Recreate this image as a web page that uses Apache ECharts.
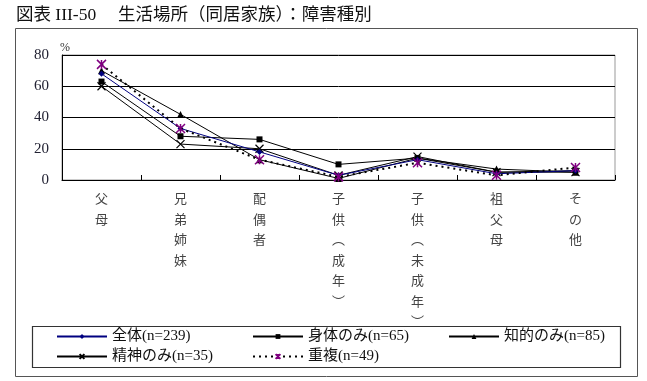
<!DOCTYPE html>
<html><head><meta charset="utf-8">
<script src="https://cdn.jsdelivr.net/npm/echarts@6/dist/echarts.min.js"></script>
<style>html,body{margin:0;padding:0;background:#fff}#c{width:647px;height:381px}</style>
</head><body><div id="c"></div>
<script>
var titleText = '図表 III-50　 生活場所（同居家族）：障害種別';
var categories = ['父母','兄弟姉妹','配偶者','子供（成年）','子供（未成年）','祖父母','その他'];
var yTicks = [0, 20, 40, 60, 80];
var seriesNames = ['全体(n=239)','身体のみ(n=65)','知的のみ(n=85)','精神のみ(n=35)','重複(n=49)'];
var zentai = [68, 33, 18, 3, 13, 4, 6];
var shintai = [63, 28, 26, 10, 14, 5, 6];
var chiteki = [70, 42, 13, 1, 14, 7, 5];
var seishin = [60, 23, 20, 3, 15, 5, 5];
var choufuku = [74, 33, 13, 2, 11, 3, 8];

var FONT = '"Liberation Serif", "Noto Sans CJK JP", serif';
var chart = echarts.init(document.getElementById('c'));
var xPath = 'path://M0,0L10,10M10,0L0,10';
var starPath = 'path://M0,0L10,10M10,0L0,10M5,0L5,10';

function vert(s){
  return s.replace(/（/g,'︵').replace(/）/g,'︶').split('').join('\n');
}

var legendPos = [[56,329],[252,329],[448,329],[56,349],[252,349]];
var legends = seriesNames.map(function(n,i){
  return {data:[n], left:legendPos[i][0], top:legendPos[i][1], itemWidth:50, itemHeight:6,
    textStyle:{fontFamily:FONT, fontSize:15, color:'#111'}, padding:0, selectedMode:false};
});

chart.setOption({
  animation:false,
  title:{text:titleText, left:11, top:2, textStyle:{fontFamily:FONT, fontSize:17.5, fontWeight:'normal', color:'#111'}},
  legend: legends,
  graphic:[
    {type:'rect', shape:{x:15.5,y:28.5,width:622,height:348}, style:{fill:'none', stroke:'#555', lineWidth:1}, silent:true, z:-1},
    {type:'rect', shape:{x:32.5,y:326.5,width:588,height:41}, style:{fill:'none', stroke:'#333', lineWidth:1.2}, silent:true, z:-1}
  ],
  grid:{left:62, right:32, top:55, bottom:201, show:true, borderColor:'#999', borderWidth:1},
  xAxis:{type:'category', data:categories, boundaryGap:true,
    axisLine:{lineStyle:{color:'#000', width:1}},
    axisTick:{show:true, inside:true, length:5, lineStyle:{color:'#000'}},
    axisLabel:{formatter:vert, fontFamily:'"Noto Sans CJK JP"', fontSize:13, lineHeight:20.5, color:'#444', margin:8}
  },
  yAxis:{type:'value', min:0, max:80, interval:20, name:'%', nameLocation:'end', nameGap:1,
    nameTextStyle:{fontFamily:FONT, fontSize:12, color:'#333', align:'left', padding:[0,0,0,-2]},
    axisLine:{show:true, lineStyle:{color:'#000'}},
    axisTick:{show:false},
    axisLabel:{fontFamily:FONT, fontSize:15, color:'#223', margin:13},
    splitLine:{lineStyle:{color:'#000', width:1}}
  },
  series:[
    {name:seriesNames[0], type:'line', data:zentai, symbol:'diamond', symbolSize:6,
      lineStyle:{color:'#000080', width:1}, itemStyle:{color:'#000080'}, z:6},
    {name:seriesNames[1], type:'line', data:shintai, symbol:'rect', symbolSize:6,
      lineStyle:{color:'#000', width:1}, itemStyle:{color:'#000'}},
    {name:seriesNames[2], type:'line', data:chiteki, symbol:'triangle', symbolSize:7,
      lineStyle:{color:'#000', width:1}, itemStyle:{color:'#000'}},
    {name:seriesNames[3], type:'line', data:seishin, symbol:xPath, symbolSize:8,
      lineStyle:{color:'#000', width:1}, itemStyle:{color:'none', borderColor:'#000', borderWidth:1.2}},
    {name:seriesNames[4], type:'line', data:choufuku, symbol:starPath, symbolSize:9,
      lineStyle:{color:'#000', width:2, type:[2,4]}, itemStyle:{color:'none', borderColor:'#800080', borderWidth:1.5}, z:7}
  ]
});
</script></body></html>
